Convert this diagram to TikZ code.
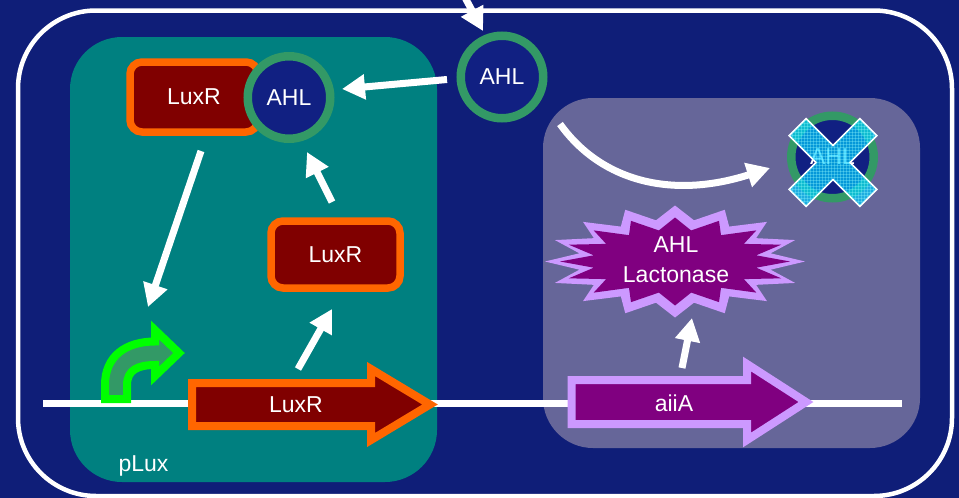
\documentclass[tikz,border=0pt]{standalone}
\usepackage{fontspec}
\setmainfont{Liberation Sans}
\usetikzlibrary{arrows.meta,patterns}
\definecolor{bgnavy}{RGB}{15,30,120}
\definecolor{circnavy}{RGB}{17,32,130}
\definecolor{ringgreen}{RGB}{51,153,102}
\definecolor{tealbox}{RGB}{0,128,128}
\definecolor{greybox}{RGB}{102,102,153}
\definecolor{maroonc}{RGB}{128,0,0}
\definecolor{orng}{RGB}{255,102,0}
\definecolor{purp}{RGB}{128,0,128}
\definecolor{lav}{RGB}{204,153,255}
\definecolor{brightgreen}{RGB}{0,255,0}
\definecolor{xcyan}{RGB}{0,204,255}
\begin{document}
\begin{tikzpicture}[x=1pt,y=-1pt,
  lbl/.style={text=white,font=\fontsize{23}{28}\selectfont},
  wire/.style={white,line width=7pt},
  flow/.style={white,line width=7pt,-{Triangle[length=23pt,width=24pt]}},
  ring/.style={circle,draw=ringgreen,fill=circnavy,line width=8.5pt,minimum size=82.5pt,inner sep=0pt,lbl},
  protbox/.style={rectangle,rounded corners=12pt,draw=orng,fill=maroonc,line width=7.5pt,inner sep=0pt,lbl},
  luxgene/.style={draw=orng,fill=maroonc,line width=8pt,line join=miter},
  aiigene/.style={draw=lav,fill=purp,line width=8pt,line join=miter},
  promo/.style={draw=brightgreen,fill=ringgreen,line width=8pt,line join=miter},
  xmark/.style={fill=xcyan,fill opacity=0.7,draw=white,line width=1.5pt,line join=miter}
]
\useasboundingbox (0,0) rectangle (959,498);
\fill[bgnavy] (0,0) rectangle (959,498);
% cell outline
\draw[white,line width=4.5pt,rounded corners=78pt] (18,10.5) rectangle (952,496);
% compartments
\fill[tealbox,rounded corners=52pt] (70,37) rectangle (437,482);
\fill[greybox,rounded corners=50pt] (543,98) rectangle (920,448);
% DNA
\coordinate (dnaL) at (43,403);
\coordinate (dnaR) at (902,403);
\draw[wire] (dnaL) -- (dnaR);
% promoter
\filldraw[promo] (105,399) -- (105,385) .. controls (105,356) and (126,341.5) .. (155,341.5)
  -- (155,330) -- (179,353) -- (155,376) -- (155,365)
  .. controls (138,365) and (127,370) .. (127,385) -- (127,399) -- cycle;
\node[lbl,anchor=base west] (plux) at (115,471) {pLux};
% genes
\filldraw[luxgene] (192,383) -- (371,383) -- (371,369) -- (430,404.5) -- (371,440) -- (371,426) -- (192,426) -- cycle;
\node[lbl] (luxrgene) at (296,405) {LuxR};
\filldraw[aiigene] (571.5,380) -- (747,380) -- (747,364) -- (806,402) -- (747,440) -- (747,424) -- (571.5,424) -- cycle;
\node[lbl] (aiia) at (674,403) {aiiA};
% proteins
\node[protbox,minimum width=128pt,minimum height=70pt] (luxr1) at (194,97) {LuxR};
\node[protbox,minimum width=129pt,minimum height=67pt] (luxr2) at (335.5,254.5) {LuxR};
\node[ring] (ahlin) at (289,97.5) {AHL};
\node[ring] (ahlout) at (502,77) {AHL};
\node[ring] (ahlx) at (832.5,157) {AHL};
% lactonase star
\fill[lav] plot[variable=\k,samples at={0,...,31}]
  ({675+130*(1-0.25*mod(\k,2))*cos(\k*11.25)},{261.5+56*(1-0.25*mod(\k,2))*sin(\k*11.25)}) -- cycle;
\fill[purp] plot[variable=\k,samples at={0,...,31}]
  ({675+115*(1-0.28*mod(\k,2))*cos(\k*11.25)},{261.5+44*(1-0.28*mod(\k,2))*sin(\k*11.25)}) -- cycle;
\node[lbl,anchor=base] (lact1) at (676,252) {AHL};
\node[lbl,anchor=base] (lact2) at (676,282) {Lactonase};
% arrows
\coordinate (a0s) at (461,-10); \coordinate (a0e) at (483,31);
\draw[flow] (a0s) -- (a0e);
\coordinate (a1s) at (447,79.5); \coordinate (a1e) at (342,89);
\draw[flow] (a1s) -- (a1e);
\coordinate (a2s) at (201,151); \coordinate (a2e) at (148,307);
\draw[flow] (a2s) -- (a2e);
\coordinate (a3s) at (332,202); \coordinate (a3e) at (307,152);
\draw[flow] (a3s) -- (a3e);
\coordinate (a4s) at (298,369); \coordinate (a4e) at (332,309);
\draw[flow] (a4s) -- (a4e);
\coordinate (a5s) at (682,368); \coordinate (a5e) at (692,318);
\draw[flow] (a5s) -- (a5e);
\coordinate (a6s) at (560,124); \coordinate (a6e) at (770,168);
\draw[flow] (a6s) .. controls (600,180) and (670,200) .. (a6e);
% X over degraded AHL
\begin{scope}[shift={(833,162.5)},rotate=45]
\path[xmark] (50,12) -- (12,12) -- (12,50) -- (-12,50) -- (-12,12) -- (-50,12) -- (-50,-12)
  -- (-12,-12) -- (-12,-50) -- (12,-50) -- (12,-12) -- (50,-12) -- cycle;
\path[pattern=grid,pattern color=cyan!40!white,opacity=0.3] (50,12) -- (12,12) -- (12,50) -- (-12,50) -- (-12,12) -- (-50,12) -- (-50,-12)
  -- (-12,-12) -- (-12,-50) -- (12,-50) -- (12,-12) -- (50,-12) -- cycle;
\end{scope}
\end{tikzpicture}
\end{document}
